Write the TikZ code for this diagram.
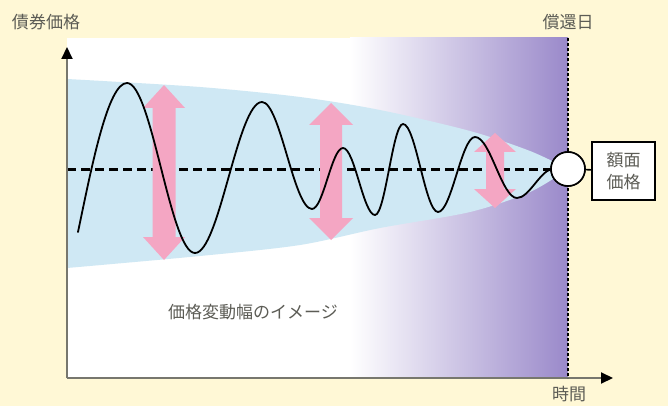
\documentclass[tikz,border=0pt]{standalone}
\usepackage{fontspec}
\newfontfamily\jp{Noto Sans CJK JP}
\usetikzlibrary{arrows.meta}
\definecolor{cream}{HTML}{FFF8D6}
\definecolor{band}{HTML}{CFE8F4}
\definecolor{violet2}{HTML}{9A89CA}
\definecolor{pinkarr}{HTML}{F4A6C3}
\definecolor{txt}{HTML}{5C5C55}
\definecolor{axisgray}{HTML}{77776E}
\pgfdeclarelayer{bg}
\pgfsetlayers{bg,main}
\newcommand\pinkdarrow[6]{%
  \fill[pinkarr] (#1,#2) -- (#1+#5,#2+#4) -- (#1+#6,#2+#4) -- (#1+#6,#3-#4) -- (#1+#5,#3-#4) -- (#1,#3)
   -- (#1-#5,#3-#4) -- (#1-#6,#3-#4) -- (#1-#6,#2+#4) -- (#1-#5,#2+#4) -- cycle;}
\begin{document}
\begin{tikzpicture}[x=1pt,y=-1pt,
  lbl/.style={font=\jp\fontsize{17}{21}\selectfont, text=txt, inner sep=0pt},
  axis/.style={line width=2pt, draw=axisgray, -{Triangle[length=12pt,width=11pt,black]}},
  wave/.style={line width=1.8pt, black, line join=round, line cap=round},
  midline/.style={line width=3pt, black, dash pattern=on 9pt off 5pt},
  maturity/.style={line width=1.6pt, black, dash pattern=on 3pt off 2pt},
  facecircle/.style={circle, draw=black, line width=1.6pt, fill=white, minimum size=34pt, inner sep=0pt},
  facebox/.style={draw=black, line width=1.6pt, fill=white, minimum width=63pt, minimum height=58pt, align=center, inner sep=0pt, font=\jp\fontsize{17}{22}\selectfont, text=txt}]
\useasboundingbox (0,0) rectangle (668,406);
% nodes and coordinates
\coordinate (org) at (67,378);
\coordinate (ytip) at (67,47);
\coordinate (xtip) at (613,378);
\coordinate (mtop) at (568,38);
\coordinate (mbot) at (568,378);
\coordinate (mid0) at (67,169);
\node[facecircle] (face) at (568,169) {};
\node[facebox] (fbox) at (623.5,171) {額面\\価格};
\draw[line width=1.6pt] (face) -- (fbox);
\begin{pgfonlayer}{bg}
\fill[cream] (0,0) rectangle (668,406);
\fill[white] (67,38) rectangle (352,378);
\shade[left color=white, right color=violet2] (350,38) rectangle (568,378);
\fill[band] plot[smooth] coordinates {(67,79) (200,87) (300,97) (380,110) (470,131) (530,151) (568,169)}
  -- plot[smooth] coordinates {(568,169) (530,192) (470,212) (380,228) (300,245) (200,256) (67,268)} -- cycle;
\draw[midline] (mid0) -- (face);
\pinkdarrow{164}{85}{260}{23}{21}{11.5}
\pinkdarrow{331}{103}{240}{22}{22}{11}
\pinkdarrow{495}{133}{208}{19}{21}{9}
\draw[wave] (78,232) .. controls (92,165) and (108,83) .. (127,83)
  .. controls (151.7,83) and (170.3,253) .. (195,253)
  .. controls (219.3,253) and (237.7,102) .. (262,102)
  .. controls (280.2,102) and (293.8,209) .. (312,209)
  .. controls (323.3,209) and (331.7,148) .. (343,148)
  .. controls (354.6,148) and (363.4,215) .. (375,215)
  .. controls (385.2,215) and (392.8,124) .. (403,124)
  .. controls (415.7,124) and (425.3,212) .. (438,212)
  .. controls (451.4,212) and (461.6,137) .. (475,137)
  .. controls (490.3,137) and (501.7,198) .. (517,198)
  .. controls (529,198) and (540,171) .. (552,169);
\end{pgfonlayer}
\draw[axis] (org) -- (ytip);
\draw[axis] (org) -- (xtip);
\draw[maturity] (mtop) -- (mbot);
\node[facecircle] at (face) {};
\node[lbl] (ylab) at (46,22) {債券価格};
\node[lbl] (redemp) at (568,22) {償還日};
\node[lbl] (xlab) at (569,394) {時間};
\node[lbl] (img) at (253,312) {価格変動幅のイメージ};
\end{tikzpicture}
\end{document}
